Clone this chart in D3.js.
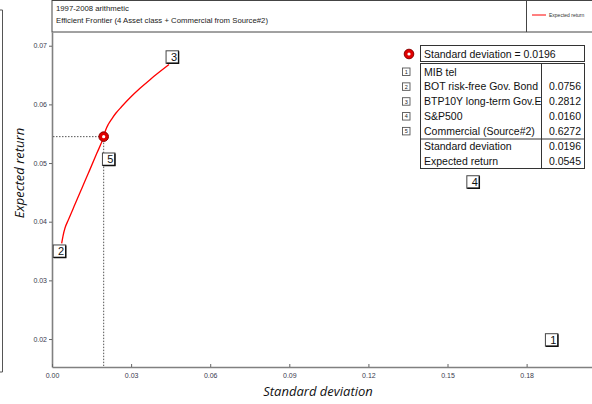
<!DOCTYPE html>
<html>
<head>
<meta charset="utf-8">
<script src="https://cdn.jsdelivr.net/npm/d3@7"></script>
<style>
  html, body { margin: 0; padding: 0; background: #fff; }
  svg { display: block; font-family: "Liberation Sans", Arial, sans-serif; }
</style>
</head>
<body>
<svg id="chart" width="592" height="404"></svg>
<script>
// Efficient frontier: standard deviation vs expected return
const frontierSd  = [0.00368, 0.00417, 0.00493, 0.00618, 0.00872, 0.01126, 0.01377, 0.01695, 0.0196, 0.02029, 0.02143, 0.02276, 0.02427, 0.02636, 0.02958, 0.03338, 0.03717, 0.04096, 0.04437];
const frontierRet = [0.03632, 0.03756, 0.03892, 0.04029, 0.04297, 0.04563, 0.04825, 0.05161, 0.0545, 0.05555, 0.05665, 0.05759, 0.05853, 0.05959, 0.06112, 0.06274, 0.06422, 0.06559, 0.06680];

// Asset classes and their numbered markers on the plane
const assetIds   = ["1", "2", "3", "4", "5"];
const assetNames = ["MIB tel", "BOT risk-free Gov. Bond", "BTP10Y long-term Gov.E", "S&P500", "Commercial (Source#2)"];
const assetSd    = [0.1895, 0.00284, 0.04563, 0.1597, 0.0215];
const assetRet   = [0.01984, 0.03497, 0.06807, 0.04677, 0.05065];

// Selected portfolio and its weights
const selectedSd  = 0.0196;
const selectedRet = 0.0545;
const weights     = ["", "0.0756", "0.2812", "0.0160", "0.6272"];

const xTicks = [0, 0.03, 0.06, 0.09, 0.12, 0.15, 0.18];
const yTicks = [0.02, 0.03, 0.04, 0.05, 0.06, 0.07];

const titleLines = ["1997-2008 arithmetic", "Efficient Frontier (4 Asset class + Commercial from Source#2)"];
const legendLabel = "Expected return";

const svg = d3.select("#chart");

const plotLeft = 52, plotRight = 592, plotTop = 32, plotBottom = 367;
const x = d3.scaleLinear().domain([0, 0.2048]).range([plotLeft, plotRight]);
const y = d3.scaleLinear().domain([0.01523, 0.07234]).range([plotBottom, plotTop]);

// Left frame bracket
svg.append("path")
  .attr("d", "M0,10H2.5V372H0")
  .attr("fill", "none").attr("stroke", "#555").attr("stroke-width", 1);

// Header box with title and legend
svg.append("rect")
  .attr("x", plotLeft).attr("y", 0.5).attr("width", 600).attr("height", plotTop - 0.5)
  .attr("fill", "#fff").attr("stroke", "#444").attr("stroke-width", 1);
svg.append("line")
  .attr("x1", 526.5).attr("x2", 526.5).attr("y1", 0).attr("y2", plotTop)
  .attr("stroke", "#444").attr("stroke-width", 1);
svg.selectAll("text.title").data(titleLines).join("text")
  .attr("class", "title")
  .attr("x", 56).attr("y", (d, i) => 10.5 + i * 12.5)
  .attr("font-size", 7.75).attr("fill", "#222")
  .text(d => d);
svg.append("line")
  .attr("x1", 532).attr("x2", 546).attr("y1", 15).attr("y2", 15)
  .attr("stroke", "#ff0000").attr("stroke-width", 1);
svg.append("text")
  .attr("x", 549).attr("y", 16.8)
  .attr("font-size", 5).attr("fill", "#333")
  .text(legendLabel);

// Axes
const axisColor = "#808080";
const tickFill = "#3a3a4e";

const yAxis = svg.append("g")
  .attr("transform", `translate(${plotLeft},0)`)
  .call(d3.axisLeft(y).tickValues(yTicks).tickFormat(d3.format(".2f")).tickSize(3).tickSizeOuter(0).tickPadding(2));

const xAxis = svg.append("g")
  .attr("transform", `translate(0,${plotBottom})`)
  .call(d3.axisBottom(x).tickValues(xTicks).tickFormat(d3.format(".2f")).tickSize(-3).tickSizeOuter(0).tickPadding(6));

[xAxis, yAxis].forEach(g => {
  g.select(".domain").attr("stroke", axisColor).attr("stroke-width", 1.6);
  g.selectAll(".tick line").attr("stroke", "#666");
  g.selectAll(".tick text").attr("font-size", 7).attr("fill", tickFill)
    .attr("font-family", "Liberation Sans, Arial, sans-serif");
});

// Axis titles
svg.append("text")
  .attr("x", 318).attr("y", 396)
  .attr("text-anchor", "middle")
  .attr("font-size", 13).attr("font-style", "italic").attr("fill", "#111")
  .attr("font-family", "Open Sans, sans-serif")
  .text("Standard deviation");
svg.append("text")
  .attr("transform", "translate(24,173) rotate(-90)")
  .attr("text-anchor", "middle")
  .attr("font-size", 13).attr("font-style", "italic").attr("fill", "#111")
  .attr("font-family", "Open Sans, sans-serif")
  .text("Expected return");

// Guide lines to the selected portfolio
svg.append("line")
  .attr("x1", plotLeft + 1).attr("x2", x(selectedSd)).attr("y1", y(selectedRet)).attr("y2", y(selectedRet))
  .attr("stroke", "#555").attr("stroke-width", 1).attr("stroke-dasharray", "1.5,1.5");
svg.append("line")
  .attr("x1", x(selectedSd)).attr("x2", x(selectedSd)).attr("y1", y(selectedRet)).attr("y2", plotBottom - 1)
  .attr("stroke", "#555").attr("stroke-width", 1).attr("stroke-dasharray", "1.5,1.5");

// Frontier curve
const frontier = frontierSd.map((s, i) => [s, frontierRet[i]]);
svg.append("path")
  .datum(frontier)
  .attr("fill", "none").attr("stroke", "#ff0000").attr("stroke-width", 1.3)
  .attr("d", d3.line().x(d => x(d[0])).y(d => y(d[1])).curve(d3.curveMonotoneX));

// Numbered asset labels
function numberBox(g, cx, cy, w, h, label, fs) {
  g.append("rect")
    .attr("x", cx - w / 2).attr("y", cy - h / 2).attr("width", w).attr("height", h)
    .attr("fill", "#fff").attr("stroke", "#444").attr("stroke-width", 1);
  g.append("path")
    .attr("d", `M${cx - w / 2 + 0.5},${cy + h / 2}H${cx + w / 2}V${cy - h / 2 + 0.5}`)
    .attr("fill", "none").attr("stroke", "#111").attr("stroke-width", 1.4);
  g.append("text")
    .attr("x", cx + w / 2 - 1.5).attr("y", cy + fs * 0.36)
    .attr("text-anchor", "end").attr("font-size", fs).attr("fill", "#111")
    .text(label);
}
const labelsG = svg.append("g");
assetIds.forEach((id, i) => {
  numberBox(labelsG, x(assetSd[i]), y(assetRet[i]), 12.5, 12.5, id, 11);
});

// Selected portfolio marker
function marker(g, cx, cy) {
  g.append("circle").attr("cx", cx).attr("cy", cy).attr("r", 4.8)
    .attr("fill", "#e00000").attr("stroke", "#8a0000").attr("stroke-width", 1);
  g.append("circle").attr("cx", cx).attr("cy", cy).attr("r", 1.6).attr("fill", "#fff");
}
marker(svg, x(selectedSd), y(selectedRet));

// Portfolio composition table
const tbl = svg.append("g");
const tLeft = 420.5, tRight = 584.5, colSep = 541.5;
marker(tbl, 409, 54);
tbl.append("rect").attr("x", tLeft).attr("y", 45.5).attr("width", tRight - tLeft).attr("height", 16)
  .attr("fill", "#fff").attr("stroke", "#333");
tbl.append("text").attr("x", 424).attr("y", 57.5).attr("font-size", 10.5).attr("fill", "#111")
  .text("Standard deviation = " + d3.format(".4f")(selectedSd));

tbl.append("rect").attr("x", tLeft).attr("y", 63.5).attr("width", tRight - tLeft).attr("height", 105)
  .attr("fill", "#fff").attr("stroke", "#333");
tbl.append("line").attr("x1", colSep).attr("x2", colSep).attr("y1", 63.5).attr("y2", 168.5).attr("stroke", "#333");
tbl.append("line").attr("x1", tLeft).attr("x2", tRight).attr("y1", 139).attr("y2", 139).attr("stroke", "#333");

const rowY = i => 71.8 + i * 14.85;
assetNames.forEach((name, i) => {
  const cy = rowY(i);
  tbl.append("rect").attr("x", 402.5).attr("y", cy - 3.8).attr("width", 7.5).attr("height", 7.5)
    .attr("fill", "#fff").attr("stroke", "#555").attr("stroke-width", 0.9);
  tbl.append("text").attr("x", 406.3).attr("y", cy + 2).attr("text-anchor", "middle")
    .attr("font-size", 5.5).attr("fill", "#222").text(assetIds[i]);
  tbl.append("text").attr("x", 424).attr("y", cy + 3.8).attr("font-size", 10.5).attr("fill", "#111").text(name);
  tbl.append("text").attr("x", 581).attr("y", cy + 3.8).attr("text-anchor", "end")
    .attr("font-size", 10.5).attr("fill", "#111").text(weights[i]);
});
const summary = [["Standard deviation", selectedSd], ["Expected return", selectedRet]];
summary.forEach((r, j) => {
  const cy = rowY(5 + j);
  tbl.append("text").attr("x", 424).attr("y", cy + 3.8).attr("font-size", 10.5).attr("fill", "#111").text(r[0]);
  tbl.append("text").attr("x", 581).attr("y", cy + 3.8).attr("text-anchor", "end")
    .attr("font-size", 10.5).attr("fill", "#111").text(d3.format(".4f")(r[1]));
});
</script>
</body>
</html>
